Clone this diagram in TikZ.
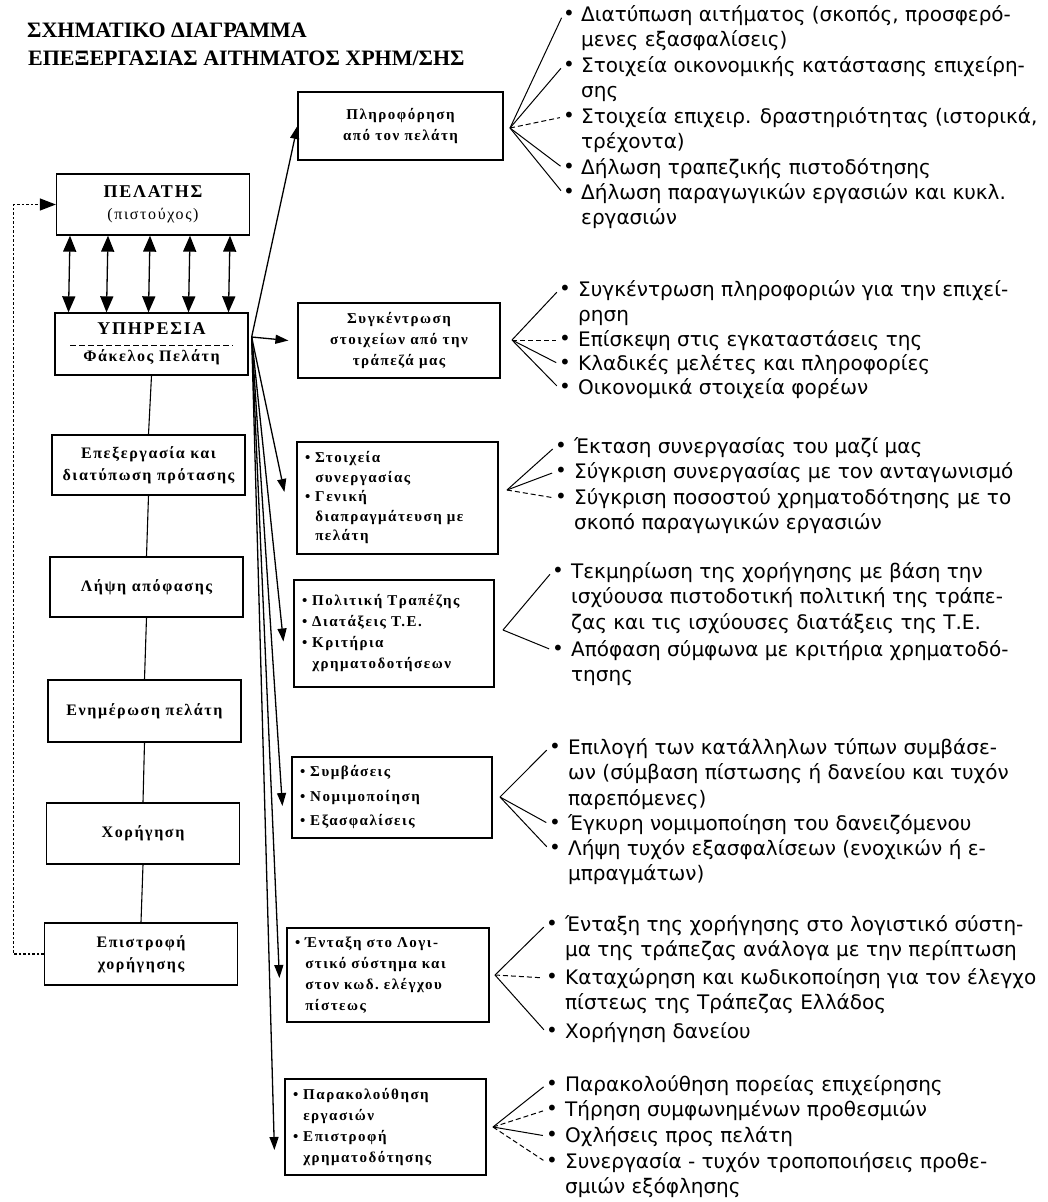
\documentclass[tikz,border=0pt]{standalone}
\usepackage{fontspec}
\setmainfont{Liberation Serif}
\newfontfamily\boxf[LetterSpace=10]{Liberation Serif}
\newfontfamily\bulf{DejaVu Sans}
\usetikzlibrary{arrows.meta}
\begin{document}
\begin{tikzpicture}[x=1pt,y=-1pt,
  every node/.style={inner sep=0pt},
  lbox/.style={draw,line width=1.3pt,minimum width=193pt,minimum height=61pt,align=center,
    font=\boxf\bfseries\fontsize{16}{22}\selectfont},
  mbox/.style={draw,line width=1.2pt,align=center,
    font=\boxf\bfseries\fontsize{15}{21}\selectfont},
  mlist/.style={draw,line width=1.2pt,align=left,inner xsep=8pt,
    font=\boxf\bfseries\fontsize{15}{21}\selectfont},
  link/.style={line width=1.1pt},
  dbl/.style={line width=1.3pt,{Triangle[length=16pt,width=13pt]}-{Triangle[length=16pt,width=13pt]}},
  feed/.style={line width=1.3pt,-{Triangle[length=13pt,width=9pt]}},
  ret/.style={line width=1.2pt,dash pattern=on 2.5pt off 2pt,-{Triangle[length=16pt,width=12pt,fill=black]}},
  fan/.style={line width=1pt,shorten >=3pt},
  fand/.style={fan,dash pattern=on 5pt off 3pt},
  bul/.style={font=\bulf\fontsize{20}{25.5}\selectfont},
  itm/.style={anchor=base west,align=left,font=\bulf\fontsize{20}{25.5}\selectfont}]
\useasboundingbox (0,0) rectangle (1048,1202);

% title
\node[anchor=base west,font=\bfseries\fontsize{22}{28}\selectfont] (t1) at (27,37) {ΣΧΗΜΑΤΙΚΟ ΔΙΑΓΡΑΜΜΑ};
\node[anchor=base west,font=\bfseries\fontsize{22}{28}\selectfont] (t2) at (28,65) {ΕΠΕΞΕΡΓΑΣΙΑΣ ΑΙΤΗΜΑΤΟΣ ΧΡΗΜ/ΣΗΣ};

% left column
\node[lbox] (P) at (153,204.5) {{\fontsize{18}{22}\selectfont ΠΕΛΑΤΗΣ}\\{\mdseries (πιστούχος)}};
\node[lbox,minimum height=62pt] (U) at (151.5,344) {{\fontsize{18}{22}\selectfont ΥΠΗΡΕΣΙΑ}\\[5pt]Φάκελος Πελάτη};
\draw[line width=0.8pt,dash pattern=on 6pt off 3pt] (70,345) -- (233,345);
\node[lbox,minimum height=60pt] (E) at (148.5,465) {Επεξεργασία και\\διατύπωση πρότασης};
\node[lbox,minimum height=60pt] (L) at (146.5,587) {Λήψη απόφασης};
\node[lbox,minimum height=62pt] (N) at (144.5,711) {Ενημέρωση πελάτη};
\node[lbox,minimum height=61pt] (X) at (143,833.5) {Χορήγηση};
\node[lbox,minimum height=62pt] (R) at (141,954) {Επιστροφή\\χορήγησης};

\foreach \dx in {-83,-45,-3,37,77}
  \draw[dbl] ([xshift=\dx pt]P.south) -- ([xshift=\dx pt]U.north);
\draw[link] (U.south) -- (E.north);
\draw[link] (E.south) -- (L.north);
\draw[link] (L.south) -- (N.north);
\draw[link] (N.south) -- (X.north);
\draw[link] (X.south) -- (R.north);
\draw[ret] (R.west) -- ++(-30,0) |- (P.west);

% middle boxes
\node[mbox,minimum width=205pt,minimum height=68pt] (m1) at (400.5,126) {Πληροφόρηση\\από τον πελάτη};
\node[mbox,minimum width=202pt,minimum height=75pt] (m2) at (399,340.5) {Συγκέντρωση\\στοιχείων από την\\τράπεζά μας};
\node[mlist,text width=185pt,minimum height=112pt,font=\boxf\bfseries\fontsize{15}{19.5}\selectfont] (m3) at (397.5,498)
  {• Στοιχεία\\\phantom{• }συνεργασίας\\• Γενική\\\phantom{• }διαπραγμάτευση~με\\\phantom{• }πελάτη};
\node[mlist,text width=184pt,minimum height=107pt] (m4) at (394,633.5)
  {• Πολιτική~Τραπέζης\\• Διατάξεις~Τ.Ε.\\• Κριτήρια\\\phantom{• }χρηματοδοτήσεων};
\node[mlist,text width=184pt,minimum height=81pt,font=\boxf\bfseries\fontsize{15}{24.5}\selectfont] (m5) at (392,797.5)
  {• Συμβάσεις\\• Νομιμοποίηση\\• Εξασφαλίσεις};
\node[mlist,text width=186pt,minimum height=94pt] (m6) at (388,975)
  {• Ένταξη~στο~Λογι-\\\phantom{• }στικό~σύστημα~και\\\phantom{• }στον~κωδ.~ελέγχου\\\phantom{• }πίστεως};
\node[mlist,text width=185pt,minimum height=96pt] (m7) at (385.5,1127)
  {• Παρακολούθηση\\\phantom{• }εργασιών\\• Επιστροφή\\\phantom{• }χρηματοδότησης};

\coordinate (uo) at ([xshift=3pt,yshift=7pt]U.east);
\draw[feed] (uo) -- (m1.west);
\draw[feed] (uo) -- ([xshift=-9pt]m2.west);
\draw[feed] (uo) -- ([xshift=-12pt,yshift=6pt]m3.west);
\draw[feed] (uo) -- ([xshift=-10pt,yshift=-8pt]m4.west);
\draw[feed] (uo) -- ([xshift=-9pt,yshift=-8.5pt]m5.west);
\draw[feed] (uo) -- ([xshift=-7pt,yshift=-3pt]m6.west);
\draw[feed] (uo) -- ([xshift=-10pt,yshift=-23pt]m7.west);

% group 1 (multi-line items are placed by the baseline of their last line)
\coordinate (f1) at (510,128);
\node[bul] (b1a) at (569,15) {•};
\node[itm] at (581,46.5) {Διατύπωση αιτήματος (σκοπός, προσφερό-\\μενες εξασφαλίσεις)};
\node[bul] (b1b) at (569,66) {•};
\node[itm] at (581,97.5) {Στοιχεία οικονομικής κατάστασης επιχείρη-\\σης};
\node[bul] (b1c) at (569,117) {•};
\node[itm] at (581,148.5) {Στοιχεία επιχειρ. δραστηριότητας (ιστορικά,\\τρέχοντα)};
\node[bul] (b1d) at (569,168) {•};
\node[itm] at (581,174) {Δήλωση τραπεζικής πιστοδότησης};
\node[bul] (b1e) at (569,193) {•};
\node[itm] at (581,224.5) {Δήλωση παραγωγικών εργασιών και κυκλ.\\εργασιών};
\draw[fan] (f1) -- (b1a.west);
\draw[fan] (f1) -- (b1b.west);
\draw[fand] (f1) -- (b1c.west);
\draw[fan] (f1) -- (b1d.west);
\draw[fan] (f1) -- (b1e.west);

% group 2
\coordinate (f2) at (512,340);
\node[bul] (b2a) at (565,290) {•};
\node[itm] at (578,321.5) {Συγκέντρωση πληροφοριών για την επιχεί-\\ρηση};
\node[bul] (b2b) at (565,340) {•};
\node[itm] at (578,346) {Επίσκεψη στις εγκαταστάσεις της};
\node[bul] (b2c) at (565,364) {•};
\node[itm] at (578,370) {Κλαδικές μελέτες και πληροφορίες};
\node[bul] (b2d) at (565,388) {•};
\node[itm] at (578,394) {Οικονομικά στοιχεία φορέων};
\draw[fan] (f2) -- (b2a.west);
\draw[fand] (f2) -- (b2b.west);
\draw[fan] (f2) -- (b2c.west);
\draw[fan] (f2) -- (b2d.west);

% group 3
\coordinate (f3) at (507,490);
\node[bul] (b3a) at (561,447) {•};
\node[itm] at (574,453) {Έκταση συνεργασίας του μαζί μας};
\node[bul] (b3b) at (561,472) {•};
\node[itm] at (574,478) {Σύγκριση συνεργασίας με τον ανταγωνισμό};
\node[bul] (b3c) at (561,498) {•};
\node[itm] at (574,529.5) {Σύγκριση ποσοστού χρηματοδότησης με το\\σκοπό παραγωγικών εργασιών};
\draw[fan] (f3) -- (b3a.west);
\draw[fan] (f3) -- (b3b.west);
\draw[fand] (f3) -- (b3c.west);

% group 4
\coordinate (f4) at (503,630);
\node[bul] (b4a) at (558,572) {•};
\node[itm] at (571,629) {Τεκμηρίωση της χορήγησης με βάση την\\ισχύουσα πιστοδοτική πολιτική της τράπε-\\ζας και τις ισχύουσες διατάξεις της Τ.Ε.};
\node[bul] (b4b) at (558,650) {•};
\node[itm] at (571,681.5) {Απόφαση σύμφωνα με κριτήρια χρηματοδό-\\τησης};
\draw[fan] (f4) -- (b4a.west);
\draw[fan] (f4) -- (b4b.west);

% group 5
\coordinate (f5) at (500,797);
\node[bul] (b5a) at (555,748) {•};
\node[itm] at (568,805) {Επιλογή των κατάλληλων τύπων συμβάσε-\\ων (σύμβαση πίστωσης ή δανείου και τυχόν\\παρεπόμενες)};
\node[bul] (b5b) at (555,824) {•};
\node[itm] at (568,830) {Έγκυρη νομιμοποίηση του δανειζόμενου};
\node[bul] (b5c) at (555,849) {•};
\node[itm] at (568,880.5) {Λήψη τυχόν εξασφαλίσεων (ενοχικών ή ε-\\μπραγμάτων)};
\draw[fan] (f5) -- (b5a.west);
\draw[fan] (f5) -- (b5b.west);
\draw[fan] (f5) -- (b5c.west);

% group 6
\coordinate (f6) at (495,975);
\node[bul] (b6a) at (552,925) {•};
\node[itm] at (565,956.5) {Ένταξη της χορήγησης στο λογιστικό σύστη-\\μα της τράπεζας ανάλογα με την περίπτωση};
\node[bul] (b6b) at (552,978) {•};
\node[itm] at (565,1009.5) {Καταχώρηση και κωδικοποίηση για τον έλεγχο\\πίστεως της Τράπεζας Ελλάδος};
\node[bul] (b6c) at (552,1032) {•};
\node[itm] at (565,1038) {Χορήγηση δανείου};
\draw[fan] (f6) -- (b6a.west);
\draw[fand] (f6) -- (b6b.west);
\draw[fan] (f6) -- (b6c.west);

% group 7
\coordinate (f7) at (493,1127);
\node[bul] (b7a) at (552,1085) {•};
\node[itm] at (565,1091) {Παρακολούθηση πορείας επιχείρησης};
\node[bul] (b7b) at (552,1110) {•};
\node[itm] at (565,1116) {Τήρηση συμφωνημένων προθεσμιών};
\node[bul] (b7c) at (552,1136) {•};
\node[itm] at (565,1142) {Οχλήσεις προς πελάτη};
\node[bul] (b7d) at (552,1162) {•};
\node[itm] at (565,1193.5) {Συνεργασία - τυχόν τροποποιήσεις προθε-\\σμιών εξόφλησης};
\draw[fan] (f7) -- (b7a.west);
\draw[fand] (f7) -- (b7b.west);
\draw[fan] (f7) -- (b7c.west);
\draw[fand] (f7) -- (b7d.west);
\end{tikzpicture}
\end{document}
